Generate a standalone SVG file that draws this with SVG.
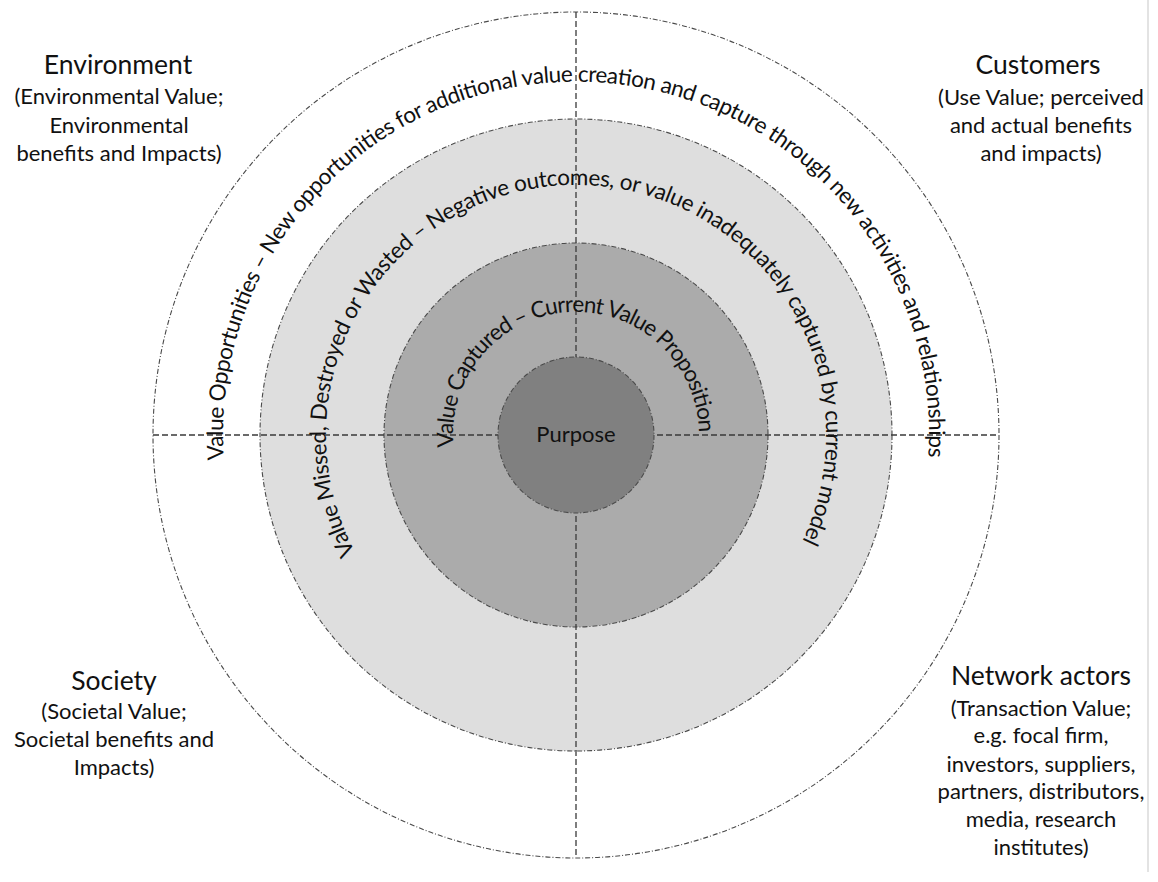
<svg xmlns="http://www.w3.org/2000/svg" width="1158" height="882" viewBox="0 0 1158 882">
<style>
.ring{stroke:#4a4a4a;stroke-width:1.1;stroke-dasharray:5 2 1 2}
.axis{stroke:#3a3a3a;stroke-width:1.3;stroke-dasharray:6 3;fill:none}
.t{font-family:Lato,"Open Sans",sans-serif;fill:#111111}
.title{font-size:26.5px;text-anchor:middle}
.sub{font-size:22px;text-anchor:middle}
.arc{font-size:22.5px}
</style>
<defs>
<path id="p-outer" d="M223.9,459.6 A353,353 0 1 1 923.6,496.3"/>
<path id="p-middle" d="M355.3,552.4 A250,250 0 1 1 780.8,578.4"/>
<path id="p-inner" d="M453.6,447 A123,123 0 1 1 697.1,456.4"/>
</defs>
<rect width="1158" height="882" fill="#ffffff"/>
<line x1="1148" y1="0" x2="1148" y2="872" stroke="#d0d0d0" stroke-width="1.2"/>
<g id="ring-opportunities">
<circle class="ring" cx="576" cy="435" r="423" fill="#ffffff"/>
</g>
<g id="ring-missed">
<circle class="ring" cx="576" cy="435" r="316" fill="#dedede"/>
</g>
<g id="ring-captured">
<circle class="ring" cx="576" cy="435" r="192" fill="#ababab"/>
</g>
<g id="connectors">
<line class="axis" x1="153" y1="435" x2="999" y2="435"/>
<line class="axis" x1="576" y1="12" x2="576" y2="858"/>
</g>
<g id="purpose">
<circle class="ring" cx="576" cy="435" r="78" fill="#808080"/>
<text class="t" x="576" y="442" font-size="22" text-anchor="middle">Purpose</text>
</g>
<g id="arc-labels">
<text class="t arc"><textPath href="#p-outer" textLength="1156" lengthAdjust="spacing">Value Opportunities – New opportunities for additional value creation and capture through new activities and relationships</textPath></text>
<text class="t arc"><textPath href="#p-middle" textLength="1017" lengthAdjust="spacing">Value Missed, Destroyed or Wasted – Negative outcomes, or value inadequately captured by current model</textPath></text>
<text class="t arc"><textPath href="#p-inner" textLength="396" lengthAdjust="spacing">Value Captured – Current Value Proposition</textPath></text>
</g>
<g id="environment">
<text class="t title" x="118" y="74">Environment</text>
<text class="t sub" x="119" y="104">(Environmental Value;</text>
<text class="t sub" x="119" y="133">Environmental</text>
<text class="t sub" x="119" y="161">benefits and Impacts)</text>
</g>
<g id="customers">
<text class="t title" x="1038" y="74">Customers</text>
<text class="t sub" x="1041" y="105">(Use Value; perceived</text>
<text class="t sub" x="1041" y="133">and actual benefits</text>
<text class="t sub" x="1041" y="161">and impacts)</text>
</g>
<g id="society">
<text class="t title" x="114" y="690">Society</text>
<text class="t sub" x="114" y="719">(Societal Value;</text>
<text class="t sub" x="114" y="747">Societal benefits and</text>
<text class="t sub" x="114" y="775">Impacts)</text>
</g>
<g id="network-actors">
<text class="t title" x="1041" y="685">Network actors</text>
<text class="t sub" x="1041" y="716">(Transaction Value;</text>
<text class="t sub" x="1041" y="743">e.g. focal firm,</text>
<text class="t sub" x="1041" y="772">investors, suppliers,</text>
<text class="t sub" x="1041" y="799">partners, distributors,</text>
<text class="t sub" x="1041" y="827">media, research</text>
<text class="t sub" x="1041" y="855">institutes)</text>
</g>
</svg>
